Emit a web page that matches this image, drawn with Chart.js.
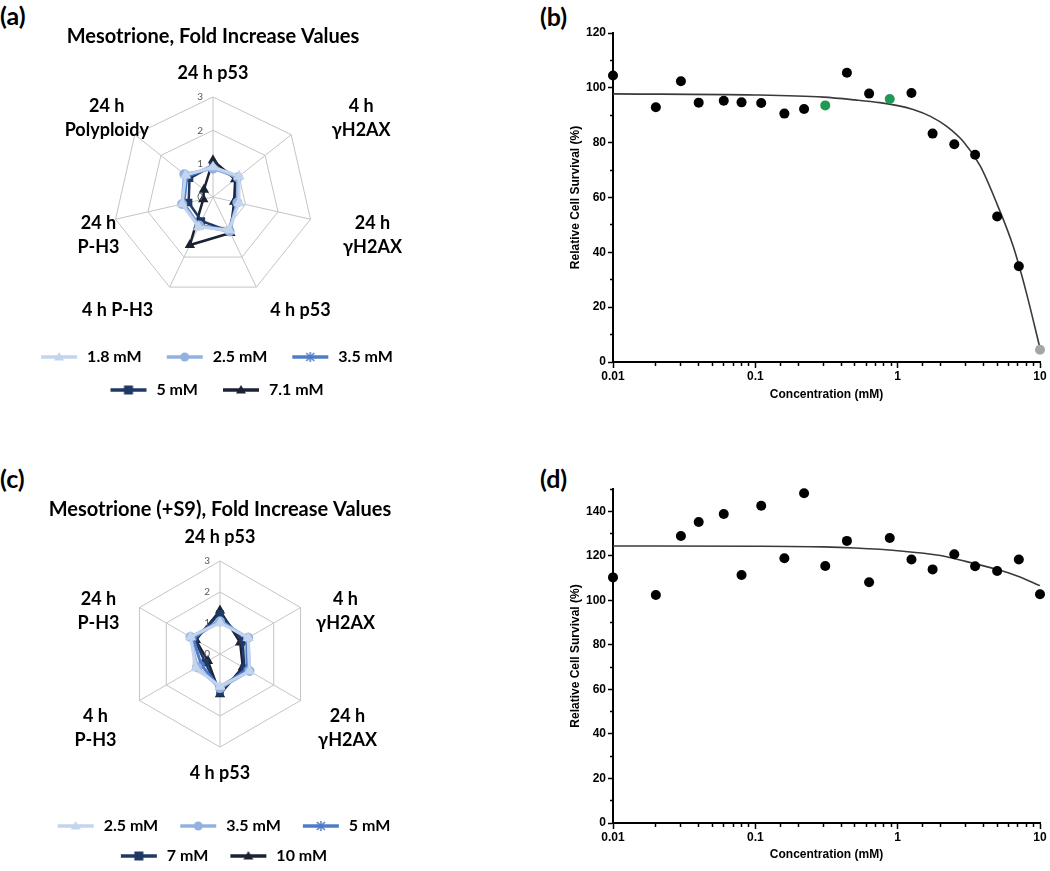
<!DOCTYPE html>
<html><head><meta charset="utf-8">
<script src="https://cdn.jsdelivr.net/npm/chart.js@4.4.1/dist/chart.umd.min.js"></script>
<style>
html,body{margin:0;padding:0;background:#fff;}
body{width:1050px;height:871px;position:relative;overflow:hidden;}
canvas{position:absolute;}
.tag{position:absolute;font:bold 25px Lato,"Open Sans",sans-serif;color:#000;line-height:28px;}
</style></head><body>
<div class="tag" style="left:0;top:1px">(a)</div>
<div class="tag" style="left:540px;top:2px">(b)</div>
<div class="tag" style="left:0;top:464px">(c)</div>
<div class="tag" style="left:540px;top:464px">(d)</div>
<canvas id="ca" width="426" height="408" style="left:0;top:0;width:426px;height:408px"></canvas>
<canvas id="cc" width="440" height="414" style="left:0;top:460px;width:440px;height:414px"></canvas>
<canvas id="cb" width="520" height="420" style="left:530px;top:0;width:520px;height:420px"></canvas>
<canvas id="cd" width="520" height="420" style="left:530px;top:460px;width:520px;height:420px"></canvas>
<script>
// ---------- data: panel (a) ----------
const axesA = ['24 h p53', ['4 h','γH2AX'], ['24 h','γH2AX'], '4 h p53', '4 h P-H3', ['24 h','P-H3'], ['24 h','Polyploidy']];
const concA = ['1.8 mM', '2.5 mM', '3.5 mM', '5 mM', '7.1 mM'];
const foldA_1p8 = [0.90, 1.00, 0.80, 1.10, 1.00, 0.95, 1.05];
const foldA_2p5 = [0.85, 0.95, 0.75, 1.15, 0.95, 0.95, 1.10];
const foldA_3p5 = [0.90, 0.95, 0.75, 1.10, 0.95, 0.90, 1.00];
const foldA_5   = [0.95, 0.90, 0.70, 1.15, 0.80, 0.75, 0.90];
const foldA_7p1 = [1.10, 0.85, 0.65, 1.20, 1.60, 0.30, 0.35];
// ---------- data: panel (c) ----------
const axesC = ['24 h p53', ['4 h','γH2AX'], ['24 h','γH2AX'], '4 h p53', ['4 h','P-H3'], ['24 h','P-H3']];
const concC = ['2.5 mM', '3.5 mM', '5 mM', '7 mM', '10 mM'];
const foldC_2p5 = [1.00, 1.05, 1.10, 1.05, 0.90, 1.10];
const foldC_3p5 = [1.05, 1.05, 1.10, 1.10, 0.85, 1.10];
const foldC_5   = [1.10, 1.00, 1.00, 1.10, 0.70, 1.00];
const foldC_7   = [1.30, 0.85, 0.90, 1.25, 0.55, 0.95];
const foldC_10  = [1.40, 0.75, 0.85, 1.30, 0.45, 0.90];
const radarTicks = [0, 1, 2, 3];
// ---------- data: panel (b) ----------
const concB     = [0.01, 0.02, 0.03, 0.04, 0.06, 0.08, 0.11, 0.16, 0.22, 0.44, 0.63, 1.25, 1.76, 2.5, 3.5, 5.0, 7.1];
const survivalB = [104.5, 92.9, 102.4, 94.6, 95.3, 94.7, 94.5, 90.6, 92.3, 105.5, 97.9, 98.1, 83.3, 79.4, 75.6, 53.1, 34.9];
const concBgreen = [0.31, 0.88];
const survBgreen = [93.6, 95.9];
const concBgrey = [10];
const survBgrey = [4.5];
const fitBx = [0.01, 0.1, 0.3, 0.5, 0.75, 1.0, 1.3, 1.7, 2.2, 2.9, 3.8, 5.0, 6.5, 8.0, 10];
const fitBy = [97.8, 97.4, 96.6, 95.6, 94.6, 93.5, 92.0, 89.6, 86.0, 80.3, 71.5, 57.5, 42.0, 25.5, 5.0];
// ---------- data: panel (d) ----------
const concD     = [0.01, 0.02, 0.03, 0.04, 0.06, 0.08, 0.11, 0.16, 0.22, 0.31, 0.44, 0.63, 0.88, 1.25, 1.76, 2.5, 3.5, 5.0, 7.1, 10];
const survivalD = [110.3, 102.4, 128.9, 135.2, 138.8, 111.4, 142.5, 118.9, 148.1, 115.4, 126.7, 108.1, 128.0, 118.3, 113.9, 120.7, 115.3, 113.2, 118.3, 102.7];
const fitDx = [0.01, 0.1, 0.3, 0.5, 1.0, 2.0, 3.0, 5.0, 7.0, 10];
const fitDy = [124.4, 124.3, 124.0, 123.5, 122.3, 120.1, 117.5, 113.8, 110.8, 106.6];
const xMajorTicks = [0.01, 0.1, 1, 10];

// ---------- styles ----------
const blues = ['#c3d4ee', '#93b1e0', '#4f7cc9', '#1f3864', '#1a2233'];
const markerStyles = ['triangle', 'circle', 'star', 'rect', 'triangle'];
const lab = 'Lato, "Open Sans", sans-serif';
const arial = '"Liberation Sans", Arial, sans-serif';
// label block centre offsets from each axis end (text layout only)
const labelNudgeA = [[0, -24], [70, -16], [62, 16], [44, 23], [-52, 23], [-17, 16], [-28, -16]];
const labelNudgeC = [[0, -24], [45, 4], [47, 28], [0, 26], [-44, 28], [-41, 4]];

function glyph(color, style) {
  const c = document.createElement('canvas');
  c.width = 46; c.height = 14;
  const g = c.getContext('2d');
  g.strokeStyle = color; g.fillStyle = color; g.lineWidth = 3.5;
  g.beginPath(); g.moveTo(8, 7); g.lineTo(44, 7); g.stroke();
  const m = 26;
  g.beginPath();
  if (style === 'triangle') { g.moveTo(m, 2); g.lineTo(m + 5, 10.5); g.lineTo(m - 5, 10.5); g.closePath(); g.fill(); }
  else if (style === 'circle') { g.arc(m, 7, 4.5, 0, Math.PI * 2); g.fill(); }
  else if (style === 'rect') { g.rect(m - 4.5, 2.5, 9, 9); g.fill(); }
  else if (style === 'star') { g.lineWidth = 1.5; g.moveTo(m - 4, 3); g.lineTo(m + 4, 11); g.moveTo(m + 4, 3); g.lineTo(m - 4, 11); g.moveTo(m, 2); g.lineTo(m, 12); g.stroke(); }
  return c;
}

const radarText = {
  id: 'radarText',
  afterDraw(chart, args, o) {
    const s = chart.scales.r, ctx = chart.ctx;
    ctx.save();
    ctx.font = '10px ' + lab; ctx.fillStyle = '#595959';
    ctx.textAlign = 'right'; ctx.textBaseline = 'middle';
    s.ticks.forEach(t => {
      const d = s.getDistanceFromCenterForValue(t.value);
      ctx.fillText(String(t.value), s.xCenter - o.tickDx, s.yCenter - d);
    });
    ctx.font = 'bold 18px ' + lab; ctx.fillStyle = '#000'; ctx.textAlign = 'center';
    const lh = 24;
    chart.data.labels.forEach((lbl, i) => {
      const lines = Array.isArray(lbl) ? lbl : [lbl];
      const p = s.getPointPosition(i, s.drawingArea);
      const n = o.nudge[i];
      const cx = p.x + n[0], cy = p.y + n[1];
      const y0 = cy - (lines.length - 1) * lh / 2;
      lines.forEach((ln, k) => ctx.fillText(ln, cx, y0 + k * lh));
    });
    ctx.restore();
  }
};

function radar(id, axes, names, series, title, t) {
  new Chart(document.getElementById(id), {
    type: 'radar',
    data: {
      labels: axes,
      datasets: series.map((d, i) => ({
        label: names[i], data: d, fill: false,
        borderColor: blues[i], backgroundColor: blues[i],
        borderWidth: i < 3 ? 3 : 2.5,
        pointStyle: markerStyles[i], pointRadius: 3.5,
        pointBackgroundColor: blues[i], pointBorderColor: blues[i]
      }))
    },
    options: {
      responsive: false, animation: false, devicePixelRatio: 1,
      layout: { padding: 0 },
      scales: {
        r: {
          min: 0, max: 3,
          ticks: { display: false, stepSize: 1 },
          afterBuildTicks: s => { s.ticks = radarTicks.map(v => ({ value: v })); },
          grid: { color: '#c4c4c4', lineWidth: 1 },
          angleLines: { color: '#c4c4c4', lineWidth: 1 },
          pointLabels: { display: false }
        }
      },
      plugins: {
        tooltip: { enabled: false },
        title: { display: true, text: title, color: '#000',
                 font: { family: lab, size: 20, weight: 'bold', lineHeight: 1.2 },
                 padding: { top: t.titleTop, bottom: t.titleBottom } },
        legend: {
          position: 'bottom',
          title: { display: true, text: '', padding: 0, font: { size: t.gap, lineHeight: 1 } },
          labels: {
            usePointStyle: true, pointStyleWidth: 46, padding: t.legPad, color: '#000',
            font: { family: lab, size: 16, weight: 'bold' },
            generateLabels: ch => ch.data.datasets.map((ds, i) => ({
              text: ds.label, pointStyle: glyph(blues[i], markerStyles[i]),
              fillStyle: blues[i], strokeStyle: blues[i], lineWidth: 0,
              fontColor: '#000', hidden: false, datasetIndex: i
            }))
          }
        },
        radarText: { nudge: t.nudge, tickDx: 10 }
      }
    },
    plugins: [radarText]
  });
}

radar('ca', axesA, concA, [foldA_1p8, foldA_2p5, foldA_3p5, foldA_5, foldA_7p1],
      'Mesotrione, Fold Increase Values', { titleTop: 25, titleBottom: 48, gap: 35, legPad: 17, nudge: labelNudgeA });
radar('cc', axesC, concC, [foldC_2p5, foldC_3p5, foldC_5, foldC_7, foldC_10],
      'Mesotrione (+S9), Fold Increase Values', { titleTop: 38, titleBottom: 39, gap: 57, legPad: 14, nudge: labelNudgeC });

// ---------- survival plots ----------
const isMajor = v => xMajorTicks.some(m => Math.abs(Math.log10(v) - Math.log10(m)) < 1e-6);
const axisFont = { family: arial, size: 12, weight: 'bold' };

function survival(id, sets, fitX, fitY, ymax, pad, xTitlePad) {
  const datasets = sets.map(s => ({
    type: 'scatter', data: s.x.map((v, i) => ({ x: v, y: s.y[i] })),
    backgroundColor: s.color, borderColor: s.color, pointRadius: 5, pointHoverRadius: 5,
    borderWidth: 0, clip: false, order: 0
  }));
  datasets.push({
    type: 'line', data: fitX.map((v, i) => ({ x: v, y: fitY[i] })),
    borderColor: '#3a3a3a', borderWidth: 1.6, pointRadius: 0, fill: false,
    cubicInterpolationMode: 'monotone', clip: false, order: 1
  });
  new Chart(document.getElementById(id), {
    type: 'scatter',
    data: { datasets },
    options: {
      responsive: false, animation: false, devicePixelRatio: 1,
      layout: { padding: pad },
      plugins: { legend: { display: false }, tooltip: { enabled: false } },
      scales: {
        x: {
          type: 'logarithmic', min: 0.01, max: 10,
          border: { color: '#000', width: 2 },
          grid: { drawOnChartArea: false, drawTicks: true, tickLength: 6, tickColor: '#000', tickWidth: 1.5,
                  tickBorderDash: c => (c.tick && isMajor(c.tick.value)) ? [] : [3, 30] },
          ticks: { autoSkip: false, maxRotation: 0, padding: 1, color: '#000', font: axisFont,
                   callback: v => isMajor(v) ? String(xMajorTicks.find(m => Math.abs(Math.log10(v) - Math.log10(m)) < 1e-6)) : '' },
          title: { display: true, text: 'Concentration (mM)', color: '#000', font: axisFont,
                   padding: { top: 0, bottom: xTitlePad } },
          afterFit: s => { s.height = 48; }
        },
        y: {
          min: 0, max: ymax,
          border: { color: '#000', width: 2 },
          grid: { drawOnChartArea: false, drawTicks: true, tickLength: 5, tickColor: '#000', tickWidth: 1.5,
                  tickBorderDash: c => (c.tick && c.tick.value % 20 === 0) ? [] : [0, 2, 3, 30] },
          ticks: { stepSize: 10, padding: 2, color: '#000', font: axisFont,
                   callback: v => (v % 20 === 0 ? String(v) : '') },
          title: { display: true, text: 'Relative Cell Survival (%)', color: '#000', font: axisFont,
                   padding: { top: 25, bottom: 0 } },
          afterFit: s => { s.width = 70; }
        }
      }
    }
  });
}

survival('cb', [
  { x: concB, y: survivalB, color: '#000000' },
  { x: concBgreen, y: survBgreen, color: '#1e9a55' },
  { x: concBgrey, y: survBgrey, color: '#a6a6a6' }
], fitBx, fitBy, 120, { left: 13, right: 10, top: 33, bottom: 10 }, 8);

survival('cd', [
  { x: concD, y: survivalD, color: '#000000' }
], fitDx, fitDy, 150, { left: 13, right: 10, top: 29, bottom: 9 }, 9);
</script>
</body></html>
